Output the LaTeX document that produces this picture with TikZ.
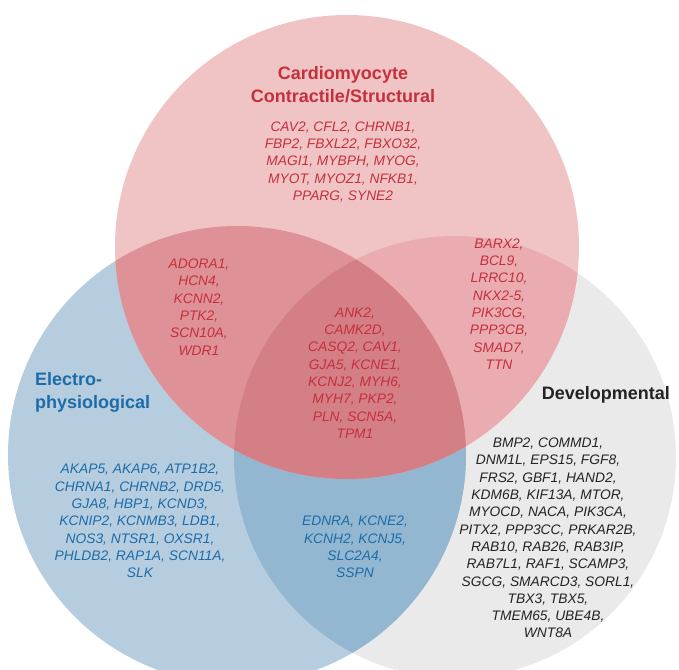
\documentclass[tikz,border=0pt]{standalone}
\usepackage{fontspec}
\setmainfont{Liberation Sans}
\usepackage{tikz}
\usetikzlibrary{positioning}
\definecolor{RedOnly}{RGB}{240,196,197}
\definecolor{BlueOnly}{RGB}{182,205,223}
\definecolor{GreyOnly}{RGB}{234,234,234}
\definecolor{RedBlue}{RGB}{222,145,150}
\definecolor{RedGrey}{RGB}{234,172,176}
\definecolor{BlueGrey}{RGB}{147,183,208}
\definecolor{Centre}{RGB}{212,126,133}
\definecolor{RedText}{RGB}{196,48,60}
\definecolor{BlueText}{RGB}{28,108,168}
\definecolor{DarkText}{RGB}{35,35,35}

\begin{document}
\begin{tikzpicture}[
  x=1pt, y=-1pt,
  genes/.style={align=center, inner sep=0pt, font=\fontsize{13.8}{17.3}\selectfont\itshape},
  settitle/.style={align=center, inner sep=0pt, font=\fontsize{18}{23}\selectfont\bfseries}
]
  \clip (0,0) rectangle (679,669);
  \fill[white] (0,0) rectangle (679,669);

  % circles
  \coordinate (cr) at (347,247);
  \coordinate (cb) at (237,455);
  \coordinate (cg) at (455,457);
  \fill[GreyOnly] (cg) circle (221);
  \fill[BlueOnly] (cb) circle (229);
  \fill[RedOnly] (cr) circle (232);
  \begin{scope}
    \clip (cb) circle (229);
    \fill[BlueGrey] (cg) circle (221);
  \end{scope}
  \begin{scope}
    \clip (cr) circle (232);
    \fill[RedBlue] (cb) circle (229);
    \fill[RedGrey] (cg) circle (221);
    \clip (cb) circle (229);
    \fill[Centre] (cg) circle (221);
  \end{scope}

  % set titles
  \node[settitle, text=RedText] (tred) at (343,85) {Cardiomyocyte\\Contractile/Structural};
  \node[settitle, text=BlueText, align=left, anchor=west] (tblue) at (35,392) {Electro-\\physiological};
  \node[settitle, text=DarkText, anchor=east] (tgrey) at (670,395) {Developmental};

  % gene lists
  \node[genes, text=RedText] (gred) at (343,162)
    {CAV2, CFL2, CHRNB1,\\FBP2, FBXL22, FBXO32,\\MAGI1, MYBPH, MYOG,\\MYOT, MYOZ1, NFKB1,\\PPARG, SYNE2};
  \node[genes, text=RedText] (gredblue) at (199,307)
    {ADORA1,\\HCN4,\\KCNN2,\\PTK2,\\SCN10A,\\WDR1};
  \node[genes, text=RedText] (gredgrey) at (499,304)
    {BARX2,\\BCL9,\\LRRC10,\\NKX2-5,\\PIK3CG,\\PPP3CB,\\SMAD7,\\TTN};
  \node[genes, text=RedText] (gall) at (355,373)
    {ANK2,\\CAMK2D,\\CASQ2, CAV1,\\GJA5, KCNE1,\\KCNJ2, MYH6,\\MYH7, PKP2,\\PLN, SCN5A,\\TPM1};
  \node[genes, text=BlueText] (gblue) at (140,521)
    {AKAP5, AKAP6, ATP1B2,\\CHRNA1, CHRNB2, DRD5,\\GJA8, HBP1, KCND3,\\KCNIP2, KCNMB3, LDB1,\\NOS3, NTSR1, OXSR1,\\PHLDB2, RAP1A, SCN11A,\\SLK};
  \node[genes, text=BlueText] (gbluegrey) at (355,547)
    {EDNRA, KCNE2,\\KCNH2, KCNJ5,\\SLC2A4,\\SSPN};
  \node[genes, text=DarkText] (ggrey) at (548,538)
    {BMP2, COMMD1,\\DNM1L, EPS15, FGF8,\\FRS2, GBF1, HAND2,\\KDM6B, KIF13A, MTOR,\\MYOCD, NACA, PIK3CA,\\PITX2, PPP3CC, PRKAR2B,\\RAB10, RAB26, RAB3IP,\\RAB7L1, RAF1, SCAMP3,\\SGCG, SMARCD3, SORL1,\\TBX3, TBX5,\\TMEM65, UBE4B,\\WNT8A};
\end{tikzpicture}
\end{document}
